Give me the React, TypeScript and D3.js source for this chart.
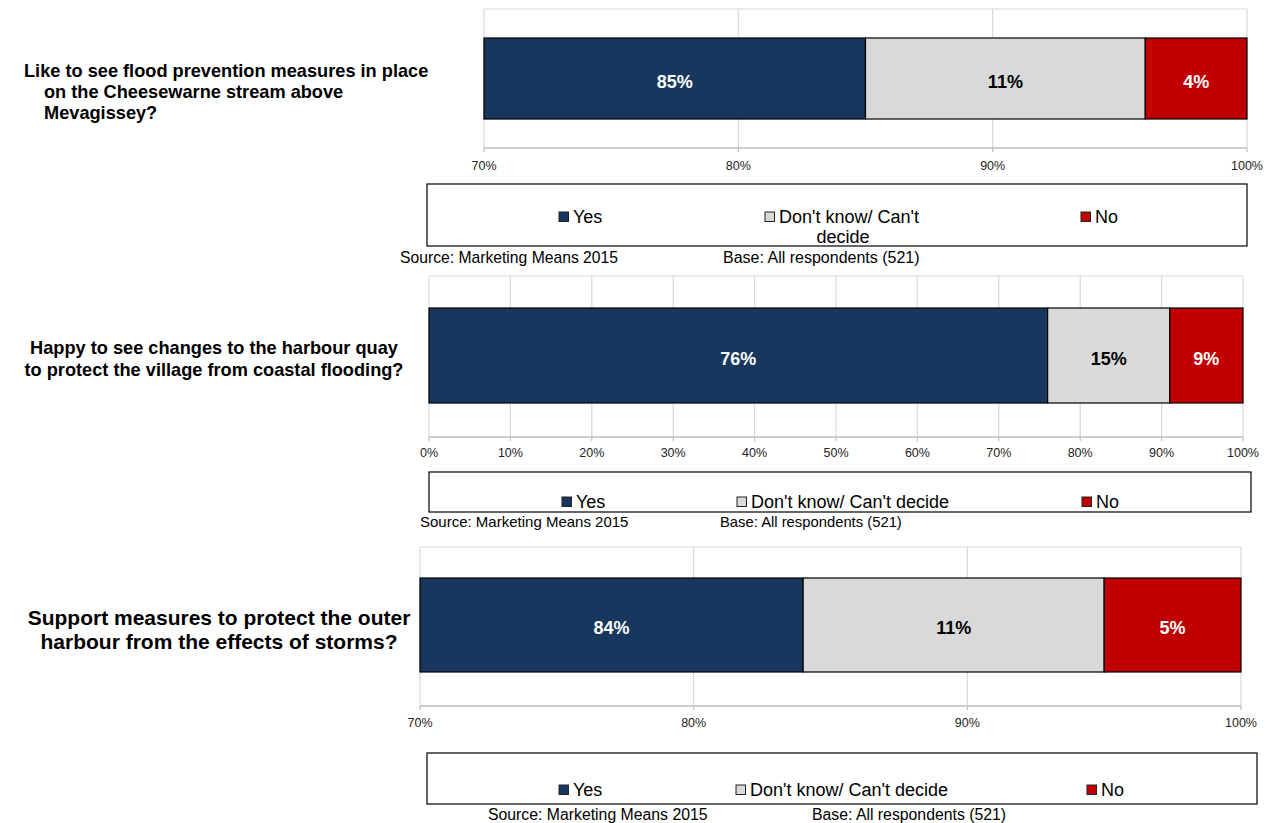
import React from 'react';
import * as d3 from 'd3';

// ---------- data ----------
const questionLines: string[][] = [
  ['Like to see flood prevention measures in place', 'on the Cheesewarne stream above', 'Mevagissey?'],
  ['Happy to see changes to the harbour quay', 'to protect the village from coastal flooding?'],
  ['Support measures to protect the outer', 'harbour from the effects of storms?'],
];
const seriesNames = ['Yes', "Don't know/ Can't decide", 'No'];
const yesValues = [85, 76, 84];
const dontKnowValues = [11, 15, 11];
const noValues = [4, 9, 5];
const axisMin = [70, 0, 70];
const axisMax = [100, 100, 100];
const tickValues = [
  [70, 80, 90, 100],
  [0, 10, 20, 30, 40, 50, 60, 70, 80, 90, 100],
  [70, 80, 90, 100],
];
const sourceText = 'Source: Marketing Means 2015';
const baseText = 'Base: All respondents (521)';

// ---------- styles / layout ----------
const colors = ['#17375E', '#D9D9D9', '#C00000'];
const labelColors = ['#FFFFFF', '#000000', '#FFFFFF'];
const FONT = '"Liberation Sans", Arial, Helvetica, sans-serif';

type Layout = {
  x0: number; x1: number; top: number; barTop: number; barBot: number; axisY: number; tickY: number;
  q: { x: number; indent: number; y: number; lh: number; size: number; anchor: 'start' | 'middle' };
  legend: { x: number; y: number; w: number; h: number; ty: number; size: number; items: number[]; wrap: boolean };
  src: { sx: number; bx: number; y: number; size: number; bsize: number };
};

const layouts: Layout[] = [
  {
    x0: 484, x1: 1247, top: 9, barTop: 38, barBot: 119, axisY: 148, tickY: 169.5,
    q: { x: 24, indent: 44, y: 77, lh: 21, size: 18.2, anchor: 'start' },
    legend: { x: 427, y: 184, w: 820, h: 62, ty: 222.5, size: 18, items: [563, 769, 1085], wrap: true },
    src: { sx: 400, bx: 723, y: 262.5, size: 15.7, bsize: 16 },
  },
  {
    x0: 429, x1: 1243, top: 276, barTop: 308, barBot: 403, axisY: 437, tickY: 456.5,
    q: { x: 214, indent: 214, y: 353.5, lh: 22, size: 18.2, anchor: 'middle' },
    legend: { x: 429, y: 472, w: 822, h: 40, ty: 507.5, size: 18, items: [566, 741, 1086], wrap: false },
    src: { sx: 420, bx: 720, y: 526.5, size: 15, bsize: 14.8 },
  },
  {
    x0: 420, x1: 1241, top: 547, barTop: 578, barBot: 672, axisY: 706, tickY: 726.5,
    q: { x: 219, indent: 219, y: 624.5, lh: 24, size: 21, anchor: 'middle' },
    legend: { x: 427, y: 753, w: 830, h: 51, ty: 795.5, size: 18, items: [563, 740, 1091], wrap: false },
    src: { sx: 488, bx: 812, y: 819.5, size: 15.8, bsize: 15.8 },
  },
];

function Panel({ i }: { i: number }) {
  const L = layouts[i];
  const x = d3.scaleLinear().domain([axisMin[i], axisMax[i]]).range([L.x0, L.x1]);
  const vals = [yesValues[i], dontKnowValues[i], noValues[i]];
  const stacked: [number, number][] = [];
  let acc = 0;
  vals.forEach((v) => {
    stacked.push([acc, acc + v]);
    acc += v;
  });
  const lo = axisMin[i];
  const mid = (L.barTop + L.barBot) / 2;

  return (
    <g>
      {/* question */}
      {questionLines[i].map((t, k) => (
        <text
          key={k}
          x={k === 0 ? L.q.x : L.q.indent}
          y={L.q.y + k * L.q.lh}
          textAnchor={L.q.anchor}
          fontFamily={FONT}
          fontWeight="bold"
          fontSize={L.q.size}
          fill="#000"
        >
          {t}
        </text>
      ))}

      {/* plot frame + grid */}
      <line x1={L.x0} x2={L.x1} y1={L.top} y2={L.top} stroke="#D9D9D9" strokeWidth={1.2} />
      {tickValues[i].map((t) => (
        <line key={'g' + t} x1={x(t)} x2={x(t)} y1={L.top} y2={L.axisY} stroke="#D9D9D9" strokeWidth={1.2} />
      ))}
      <line x1={L.x0} x2={L.x1} y1={L.axisY} y2={L.axisY} stroke="#BFBFBF" strokeWidth={1.5} />
      {tickValues[i].map((t) => (
        <line key={'t' + t} x1={x(t)} x2={x(t)} y1={L.axisY} y2={L.axisY + 4} stroke="#BFBFBF" strokeWidth={1.2} />
      ))}
      {tickValues[i].map((t) => (
        <text
          key={'l' + t}
          x={x(t)}
          y={L.tickY}
          textAnchor="middle"
          fontFamily={FONT}
          fontSize={12.5}
          fill="#222"
        >
          {t + '%'}
        </text>
      ))}

      {/* bars */}
      {stacked.map(([a, b], k) => {
        const xa = x(Math.max(a, lo));
        const xb = x(b);
        return (
          <rect
            key={'b' + k}
            x={xa}
            y={L.barTop}
            width={Math.max(0, xb - xa)}
            height={L.barBot - L.barTop}
            fill={colors[k]}
            stroke="#000"
            strokeWidth={1.2}
          />
        );
      })}
      {stacked.map(([a, b], k) => {
        const xa = x(Math.max(a, lo));
        const xb = x(b);
        return (
          <text
            key={'v' + k}
            x={(xa + xb) / 2}
            y={mid + 9}
            textAnchor="middle"
            fontFamily={FONT}
            fontWeight="bold"
            fontSize={18}
            fill={labelColors[k]}
          >
            {vals[k] + '%'}
          </text>
        );
      })}

      {/* legend */}
      <rect x={L.legend.x} y={L.legend.y} width={L.legend.w} height={L.legend.h} fill="#fff" stroke="#000" strokeWidth={1.2} />
      {seriesNames.map((name, k) => {
        const sx = L.legend.items[k];
        const wrapped = L.legend.wrap && k === 1;
        return (
          <g key={'lg' + k}>
            <rect x={sx - 4} y={L.legend.ty - 10.5} width={9.5} height={9.5} fill={colors[k]} stroke="#222" strokeWidth={1} />
            {wrapped ? (
              <>
                <text x={sx + 10} y={L.legend.ty} fontFamily={FONT} fontSize={L.legend.size} fill="#000">
                  {"Don't know/ Can't"}
                </text>
                <text x={sx + 74} y={L.legend.ty + 20} textAnchor="middle" fontFamily={FONT} fontSize={L.legend.size} fill="#000">
                  decide
                </text>
              </>
            ) : (
              <text x={sx + 10} y={L.legend.ty} fontFamily={FONT} fontSize={L.legend.size} fill="#000">
                {name}
              </text>
            )}
          </g>
        );
      })}

      {/* source / base */}
      <text x={L.src.sx} y={L.src.y} fontFamily={FONT} fontSize={L.src.size} fill="#000">
        {sourceText}
      </text>
      <text x={L.src.bx} y={L.src.y} fontFamily={FONT} fontSize={L.src.bsize} fill="#000">
        {baseText}
      </text>
    </g>
  );
}

export default function App() {
  return (
    <svg
      width={1276}
      height={823}
      viewBox="0 0 1276 823"
      style={{ position: 'absolute', left: 0, top: 0, background: '#fff', display: 'block' }}
    >
      <rect x={0} y={0} width={1276} height={823} fill="#fff" />
      {layouts.map((_, i) => (
        <Panel key={i} i={i} />
      ))}
    </svg>
  );
}
